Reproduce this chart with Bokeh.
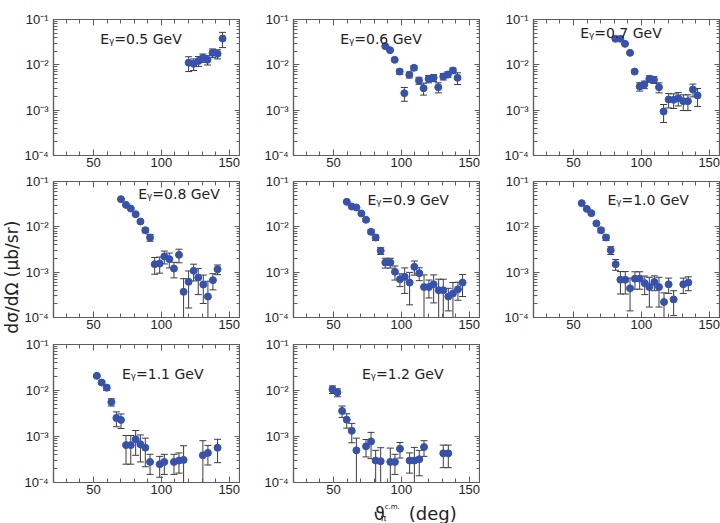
import numpy as np
from bokeh.plotting import figure
from bokeh.layouts import gridplot, row
from bokeh.models import (Range1d, FixedTicker, CustomJSTickFormatter,
                          LinearAxis, LogAxis, Label)
from bokeh.core.properties import value
from bokeh.embed import file_html
from bokeh.resources import INLINE

# Differential cross sections dsigma/dOmega (ub/sr) vs pion c.m. angle (deg),
# one set per photon beam energy.
theta_05 = [120.1, 123.8, 127.4, 130.6, 134.0, 137.7, 141.4, 145.1]
dsig_05 = [0.0111, 0.0105, 0.0122, 0.0143, 0.0129, 0.0184, 0.0175, 0.038]
err_05 = [0.004, 0.003, 0.003, 0.003, 0.003, 0.004, 0.004, 0.014]

theta_06 = [88.2, 91.7, 95.1, 98.8, 102.2, 105.9, 109.3, 113.0, 116.4, 120.1,
            123.8, 127.2, 130.9, 134.3, 138.0, 141.4]
dsig_06 = [0.0258, 0.0211, 0.0129, 0.0071, 0.00237, 0.00603, 0.0086, 0.00451,
           0.00305, 0.00491, 0.00517, 0.00321, 0.00553, 0.00612, 0.0075, 0.00517]
err_06 = [0.0008, 0.0008, 0.0008, 0.0009, 0.0008, 0.0009, 0.001, 0.0008,
          0.0009, 0.0009, 0.0009, 0.0008, 0.0009, 0.0009, 0.001, 0.0015]

theta_07 = [80.9, 84.6, 88.0, 91.7, 95.1, 98.8, 102.2, 105.9, 109.3, 113.0,
            116.4, 120.1, 123.8, 127.2, 130.9, 134.3, 138.0, 141.4]
dsig_07 = [0.0375, 0.0375, 0.029, 0.0184, 0.0071, 0.00333, 0.00368, 0.00491,
           0.00467, 0.00321, 0.000935, 0.00172, 0.00169, 0.00184, 0.00158,
           0.00158, 0.00286, 0.00211]
err_07 = [0.001, 0.001, 0.001, 0.0008, 0.0007, 0.0007, 0.0007, 0.0008, 0.0008,
          0.0008, 0.0004, 0.0006, 0.0006, 0.0006, 0.0006, 0.0006, 0.0009, 0.0009]

theta_08 = [70.3, 74.0, 77.5, 81.1, 84.6, 88.2, 91.7, 95.1, 98.8, 102.2, 105.9,
            109.3, 113.0, 116.4, 120.1, 123.8, 127.2, 130.9, 134.3, 138.0, 141.4]
dsig_08 = [0.0407, 0.0305, 0.0253, 0.019, 0.0131, 0.0084, 0.0058, 0.0015,
           0.00155, 0.00222, 0.00194, 0.0012, 0.00241, 0.000368, 0.000612,
           0.00107, 0.00076, 0.000534, 0.00029, 0.000667, 0.00116]
err_08 = [0.001, 0.001, 0.001, 0.001, 0.001, 0.001, 0.001, 0.0006, 0.0006,
          0.0007, 0.0007, 0.00045, 0.0008, 0.00035, 0.00045, 0.00043, 0.00044,
          0.00033, 0.00034, 0.00026, 0.00028]

theta_09 = [59.8, 63.5, 66.9, 70.6, 74.0, 77.7, 81.1, 84.8, 88.2, 91.9, 95.3,
            99.0, 102.5, 106.1, 109.6, 113.2, 116.7, 120.3, 123.8, 127.5, 130.9,
            134.6, 138.0, 141.7, 145.1]
dsig_09 = [0.0356, 0.0281, 0.0267, 0.0197, 0.0143, 0.0078, 0.0058, 0.00296,
           0.00163, 0.00163, 0.00102, 0.0007, 0.00079, 0.00059, 0.00131,
           0.00095, 0.00047, 0.00047, 0.00054, 0.0004, 0.0004, 0.00029,
           0.00034, 0.00042, 0.00059]
err_09 = [0.001, 0.001, 0.001, 0.001, 0.001, 0.0008, 0.0008, 0.0005, 0.0004,
          0.0004, 0.00035, 0.00022, 0.00045, 0.0004, 0.00045, 0.0003, 0.0004,
          0.0002, 0.00033, 0.0003, 0.0003, 0.00015, 0.00025, 0.00018, 0.0003]

theta_10 = [56.1, 59.8, 63.2, 66.9, 70.3, 74.0, 77.5, 81.1, 84.6, 88.2, 91.7,
            95.3, 98.8, 102.5, 105.9, 109.6, 113.0, 116.7, 120.1, 123.8, 130.9,
            134.6]
dsig_10 = [0.0333, 0.0249, 0.02, 0.0119, 0.0084, 0.0058, 0.00305, 0.0015,
           0.00068, 0.00068, 0.00044, 0.00072, 0.00072, 0.00057, 0.00047,
           0.00061, 0.00047, 0.00022, 0.00054, 0.00025, 0.00054, 0.00059]
err_10 = [0.001, 0.001, 0.001, 0.001, 0.001, 0.0008, 0.0006, 0.0004, 0.00035,
          0.00035, 0.0003, 0.0003, 0.0003, 0.00025, 0.0003, 0.00022, 0.0003,
          0.00013, 0.0002, 0.00014, 0.0002, 0.0002]

theta_11 = [52.5, 56.1, 59.8, 63.2, 66.9, 70.3, 74.0, 77.5, 81.1, 84.6, 88.2,
            91.7, 98.8, 102.2, 109.3, 113.0, 116.4, 130.6, 134.3, 141.4]
dsig_11 = [0.0208, 0.0149, 0.0115, 0.0056, 0.00253, 0.00229, 0.00065, 0.00065,
           0.00087, 0.00068, 0.00057, 0.00028, 0.00025, 0.00028, 0.00028,
           0.0003, 0.00031, 0.00039, 0.00044, 0.00057]
err_11 = [0.001, 0.0015, 0.0015, 0.001, 0.0009, 0.0008, 0.0004, 0.0004,
          0.00048, 0.0004, 0.00035, 0.00013, 0.00012, 0.00013, 0.00013,
          0.00014, 0.00032, 0.00042, 0.0002, 0.0003]

theta_12 = [49.3, 52.9, 56.4, 59.8, 63.5, 66.9, 74.0, 77.7, 81.1, 84.8, 91.9,
            95.3, 99.0, 106.1, 109.6, 113.2, 116.7, 130.9, 134.6]
dsig_12 = [0.0106, 0.0091, 0.0036, 0.00232, 0.00133, 0.0005, 0.00061, 0.00078,
           0.0003, 0.00029, 0.00028, 0.00028, 0.00054, 0.0003, 0.0003, 0.00032,
           0.00059, 0.00043, 0.00043]
err_12 = [0.002, 0.0018, 0.001, 0.0008, 0.0006, 0.00042, 0.00025, 0.00045,
          0.0002, 0.00028, 0.00028, 0.00013, 0.0002, 0.00014, 0.00028, 0.00018,
          0.00022, 0.00022, 0.00022]

energy_labels = ["0.5", "0.6", "0.7", "0.8", "0.9", "1.0", "1.1", "1.2"]
# where each energy tag sits, in data coordinates (angle, cross section)
tag_x = [55, 55, 55, 83, 75, 75, 71, 71]
tag_y = [0.038, 0.038, 0.051, 0.054, 0.039, 0.039, 0.0233, 0.0233]

x_major = [50, 100, 150]
x_minor = [30, 40, 50, 60, 70, 80, 90, 100, 110, 120, 130, 140, 150]
y_decades = [-4, -3, -2, -1]

series = [(theta_05, dsig_05, err_05), (theta_06, dsig_06, err_06),
          (theta_07, dsig_07, err_07), (theta_08, dsig_08, err_08),
          (theta_09, dsig_09, err_09), (theta_10, dsig_10, err_10),
          (theta_11, dsig_11, err_11), (theta_12, dsig_12, err_12)]

MARK = "#3452b4"
FRAME = "#5e5e5e"
TEXT = "#222222"
TICK_FONT = "Liberation Sans"
LABEL_FONT = "DejaVu Sans"
STRIP_W = 20  # width of the strip holding the vertical axis title

y_major = [10.0 ** d for d in y_decades]
y_minor = [k * 10.0 ** d for d in y_decades[:-1] for k in range(2, 10)]

pow_fmt = CustomJSTickFormatter(code="""
const e = Math.round(Math.log10(tick));
const sup = {'-': '\u207b', '0': '\u2070', '1': '\u00b9', '2': '\u00b2',
             '3': '\u00b3', '4': '\u2074', '5': '\u2075'};
return '10' + String(e).split('').map(c => sup[c]).join('');
""")

# row geometry: (top border, bottom border, figure height)
rows_geom = [(19, 18, 173), (8, 19, 163), (8, 21, 167)]


def style_axis(ax, labels=True):
    ax.axis_line_color = FRAME
    ax.axis_line_width = 1.2
    ax.major_tick_line_color = FRAME
    ax.minor_tick_line_color = FRAME
    ax.major_tick_line_width = 1
    ax.minor_tick_line_width = 1
    ax.major_tick_in = 6
    ax.major_tick_out = 0
    ax.minor_tick_in = 4
    ax.minor_tick_out = 0
    if labels:
        ax.major_label_text_font = TICK_FONT
        ax.major_label_text_font_size = "13px"
        ax.major_label_text_color = TEXT
    else:
        # mirrored tick marks only: labels made tiny and invisible
        ax.major_label_text_font_size = "1px"
        ax.major_label_text_color = None
        ax.major_label_standoff = 0


def make_panel(idx):
    theta, dsig, err = (np.asarray(a, dtype=float) for a in series[idx])
    r, c = divmod(idx, 3)
    top, bottom, height = rows_geom[r]
    left = 53 - STRIP_W if c == 0 else 53
    p = figure(width=left + 187, height=height, x_range=Range1d(20.6, 158.3),
               y_range=Range1d(1e-4, 1e-1), y_axis_type="log",
               output_backend="svg", toolbar_location=None,
               min_border_left=left, min_border_right=0,
               min_border_top=top, min_border_bottom=bottom)
    p.grid.visible = False
    p.outline_line_color = FRAME
    p.outline_line_width = 1.2
    p.background_fill_color = "white"
    p.border_fill_color = "white"

    p.xaxis[0].ticker = FixedTicker(ticks=x_major, minor_ticks=x_minor)
    p.yaxis[0].ticker = FixedTicker(ticks=y_major, minor_ticks=y_minor)
    p.yaxis[0].formatter = pow_fmt
    style_axis(p.xaxis[0])
    style_axis(p.yaxis[0])
    p.xaxis[0].major_label_standoff = 2
    p.yaxis[0].major_label_standoff = 5

    top_ax = LinearAxis(ticker=FixedTicker(ticks=x_major, minor_ticks=x_minor))
    style_axis(top_ax, labels=False)
    p.add_layout(top_ax, "above")
    right_ax = LogAxis(ticker=FixedTicker(ticks=y_major, minor_ticks=y_minor))
    style_axis(right_ax, labels=False)
    p.add_layout(right_ax, "right")

    # error bars: lower ends that fall to zero or below drop out of the frame
    lo = dsig - err
    lo = np.where(lo > 0, lo, 1e-6)
    hi = dsig + err
    p.segment(x0=theta, y0=lo, x1=theta, y1=hi, line_color="#3c3c3c",
              line_width=1)
    p.scatter(x=theta, y=hi, marker="dash", size=7, line_color="#3c3c3c",
              line_width=1)
    p.scatter(x=theta, y=lo, marker="dash", size=7, line_color="#3c3c3c",
              line_width=1)
    p.scatter(x=theta, y=dsig, marker="circle", size=7, fill_color=MARK,
              line_color=MARK)

    p.add_layout(Label(x=tag_x[idx], y=tag_y[idx],
                       text="E\u1d67=" + energy_labels[idx] + " GeV",
                       text_font=LABEL_FONT, text_font_size="14px",
                       text_color=TEXT, text_baseline="middle",
                       text_align="left"))
    return p


panels = [make_panel(i) for i in range(len(series))]


def text_strip(width, height):
    s = figure(width=width, height=height, x_range=Range1d(0, width),
               y_range=Range1d(0, height), x_axis_type=None, y_axis_type=None,
               output_backend="svg", toolbar_location=None, min_border=0)
    s.grid.visible = False
    s.outline_line_color = None
    s.border_fill_color = "white"
    return s


# strip under the bottom-middle panel carrying the horizontal axis title;
# its ranges are in pixels of the strip
title_parts = ["\u03d1", "\u03c0", "c.m.", "(deg)"]
title_x = [103, 112, 117, 148]
title_y = [10, 6, 16.5, 10]
title_size = ["18px", "9px", "7px", "18px"]
x_strip = text_strip(240, 20)
for txt, tx, ty, fs in zip(title_parts, title_x, title_y, title_size):
    x_strip.text(x=[tx], y=[ty], text=[txt], text_font=value(LABEL_FONT),
                 text_font_size=fs, text_color=TEXT, text_baseline="middle",
                 text_align="left")

# tall strip on the left carrying the vertical axis title
y_strip = text_strip(STRIP_W, 523)
y_strip.text(x=[11], y=[249], text=["d\u03c3/d\u03a9  (\u03bcb/sr)"],
             text_font=value(LABEL_FONT), text_font_size="17px",
             text_color=TEXT, text_baseline="middle", text_align="center",
             angle=np.pi / 2)

grid = gridplot([panels[0:3], panels[3:6], [panels[6], panels[7], None],
                 [None, x_strip, None]], toolbar_location=None)

page = row(y_strip, grid)
open("out.html", "w").write(file_html(page, INLINE))
